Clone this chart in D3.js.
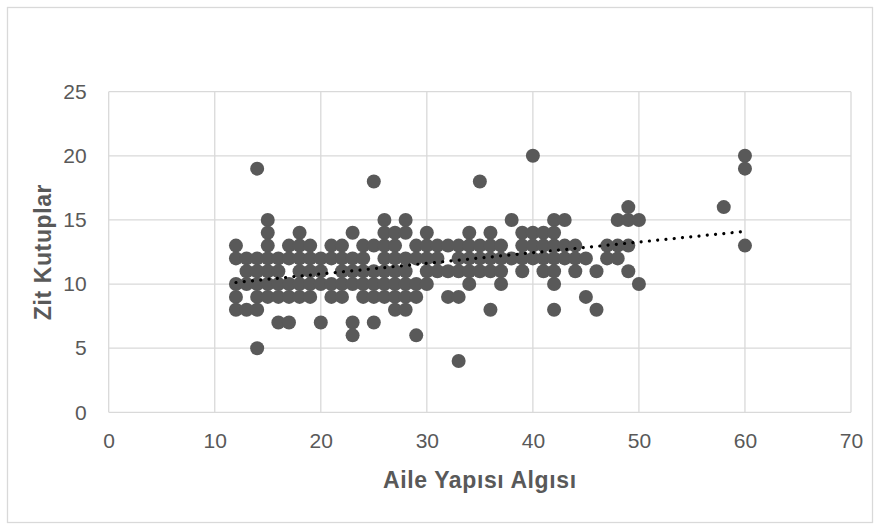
<!DOCTYPE html>
<html>
<head>
<meta charset="utf-8">
<script src="https://cdn.jsdelivr.net/npm/d3@7"></script>
<style>
  html, body { margin: 0; padding: 0; background: #ffffff; }
  svg { display: block; }
</style>
</head>
<body>
<svg id="chart" width="880" height="525"></svg>
<script>
// ---- Data ----
const xAxisTitle = "Aile Yapısı Algısı";
const yAxisTitle = "Zit Kutuplar";
const xTicks = [0, 10, 20, 30, 40, 50, 60, 70];
const yTicks = [0, 5, 10, 15, 20, 25];

// Aile Yapısı Algısı values (x) and the Zit Kutuplar values (y) seen at each x
const aileYapisi = [12, 13, 14, 15, 16, 17, 18, 19, 20, 21, 22, 23, 24, 25, 26, 27, 28, 29, 30,
                    31, 32, 33, 34, 35, 36, 37, 38, 39, 40, 41, 42, 43, 44, 45, 46, 47, 48, 49, 50, 58, 60];
const zitKutuplar = [
  [13, 12, 10, 9, 8],
  [12, 11, 10, 8],
  [19, 12, 11, 10, 9, 8, 5],
  [15, 14, 13, 12, 11, 10, 9],
  [12, 11, 10, 9, 7],
  [13, 12, 10, 9, 7],
  [14, 13, 12, 11, 10, 9],
  [13, 12, 11, 10, 9],
  [12, 11, 10, 7],
  [13, 12, 10, 9],
  [13, 12, 11, 10, 9],
  [14, 12, 11, 10, 7, 6],
  [13, 12, 11, 10, 9],
  [18, 13, 11, 10, 9, 7],
  [15, 14, 13, 12, 11, 10, 9],
  [14, 13, 12, 11, 10, 9, 8],
  [15, 14, 12, 11, 10, 9, 8],
  [13, 12, 10, 9, 6],
  [14, 13, 12, 11, 10],
  [13, 12, 11],
  [13, 11, 9],
  [13, 12, 11, 9, 4],
  [14, 13, 12, 11, 10],
  [18, 13, 12, 11],
  [14, 13, 12, 11, 8],
  [13, 12, 11, 10],
  [15, 12],
  [14, 13, 12, 11],
  [20, 14, 13, 12],
  [14, 13, 12, 11],
  [15, 14, 13, 12, 11, 10, 8],
  [15, 13, 12],
  [13, 12, 11],
  [12, 9],
  [11, 8],
  [13, 12],
  [15, 13, 12],
  [16, 15, 13, 11],
  [15, 10],
  [16],
  [20, 19, 13]
];

// ---- Build points ----
const points = [];
aileYapisi.forEach((x, i) => zitKutuplar[i].forEach(y => points.push({ x, y })));

// ---- Layout ----
const svg = d3.select("#chart");
const plot = { left: 108.7, right: 851, top: 91.7, bottom: 412.3 };

const x = d3.scaleLinear().domain([0, 70]).range([plot.left, plot.right]);
const y = d3.scaleLinear().domain([0, 25]).range([plot.bottom, plot.top]);

// outer chart border
svg.append("rect")
  .attr("x", 7.5).attr("y", 7.5)
  .attr("width", 865).attr("height", 515)
  .attr("fill", "#ffffff")
  .attr("stroke", "#d9d9d9")
  .attr("stroke-width", 1.3);

// gridlines
const grid = svg.append("g");
grid.selectAll("line.h").data(yTicks).join("line")
  .attr("x1", plot.left).attr("x2", plot.right)
  .attr("y1", d => y(d)).attr("y2", d => y(d))
  .attr("stroke", "#d9d9d9").attr("stroke-width", 1.3);
grid.selectAll("line.v").data(xTicks).join("line")
  .attr("y1", plot.top).attr("y2", plot.bottom)
  .attr("x1", d => x(d)).attr("x2", d => x(d))
  .attr("stroke", "#d9d9d9").attr("stroke-width", 1.3);

// axes (labels only, Excel-like)
const font = "'Liberation Sans', Arial, sans-serif";
const xAxis = svg.append("g")
  .attr("transform", `translate(0,${plot.bottom})`)
  .call(d3.axisBottom(x).tickValues(xTicks).tickSize(0).tickPadding(21));
xAxis.select(".domain").remove();
xAxis.selectAll("text")
  .attr("font-family", font).attr("font-size", 21).attr("fill", "#595959");

const yAxis = svg.append("g")
  .attr("transform", `translate(${plot.left},0)`)
  .call(d3.axisLeft(y).tickValues(yTicks).tickSize(0).tickPadding(22));
yAxis.select(".domain").remove();
yAxis.selectAll("text")
  .attr("font-family", font).attr("font-size", 21).attr("fill", "#595959");

// markers
svg.append("g").selectAll("circle").data(points).join("circle")
  .attr("cx", d => x(d.x))
  .attr("cy", d => y(d.y))
  .attr("r", 7)
  .attr("fill", "#595959");

// linear trendline (least squares from the data, across the x range)
const mx = d3.mean(points, d => d.x), my = d3.mean(points, d => d.y);
const sxy = d3.sum(points, d => (d.x - mx) * (d.y - my));
const sxx = d3.sum(points, d => (d.x - mx) * (d.x - mx));
const slope = sxy / sxx, intercept = my - slope * mx;
const xExt = d3.extent(points, d => d.x);
const trend = xExt.map(v => ({ x: v, y: intercept + slope * v }));
svg.append("path")
  .datum(trend)
  .attr("d", d3.line().x(d => x(d.x)).y(d => y(d.y)))
  .attr("fill", "none")
  .attr("stroke", "#000000")
  .attr("stroke-width", 3.2)
  .attr("stroke-linecap", "round")
  .attr("stroke-dasharray", "0.01 8.3");

// axis titles
svg.append("text")
  .attr("x", (plot.left + plot.right) / 2)
  .attr("y", 488)
  .attr("text-anchor", "middle")
  .attr("font-family", font).attr("font-weight", "bold")
  .attr("font-size", 23).attr("letter-spacing", "0.6px").attr("fill", "#595959")
  .text(xAxisTitle);

svg.append("text")
  .attr("transform", `translate(51,${(plot.top + plot.bottom) / 2}) rotate(-90)`)
  .attr("text-anchor", "middle")
  .attr("font-family", font).attr("font-weight", "bold")
  .attr("font-size", 23).attr("letter-spacing", "0.6px").attr("fill", "#595959")
  .text(yAxisTitle);
</script>
</body>
</html>
